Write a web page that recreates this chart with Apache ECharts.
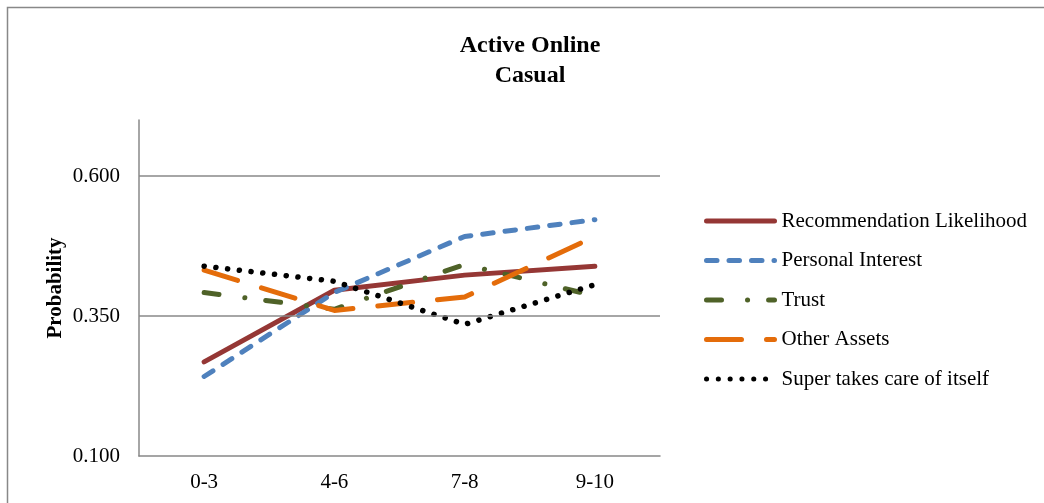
<!DOCTYPE html>
<html>
<head>
<meta charset="utf-8">
<script src="https://cdn.jsdelivr.net/npm/echarts@6/dist/echarts.min.js"></script>
<style>
html,body{margin:0;padding:0;background:#fff;}
#chart{width:1044px;height:503px;}
</style>
</head>
<body>
<div id="chart"></div>
<script>
var categories = ['0-3', '4-6', '7-8', '9-10'];
var seriesNames = ['Recommendation Likelihood', 'Personal Interest', 'Trust', 'Other Assets', 'Super takes care of itself'];
var recommendation = [0.268, 0.396, 0.423, 0.439];
var personalInterest = [0.242, 0.392, 0.492, 0.522];
var trust = [0.392, 0.362, 0.442, 0.386];
var otherAssets = [0.432, 0.360, 0.384, 0.492];
var superCare = [0.439, 0.412, 0.335, 0.406];
var yTickLabels = [0.1, 0.35, 0.6];
var gridValues = [0.35, 0.6];

var FONT = "'Liberation Serif', 'Times New Roman', serif";
var chart = echarts.init(document.getElementById('chart'), null, {renderer: 'canvas'});

function mkSeries(name, data, color, type, width) {
  return {
    name: name, type: 'line', data: data, symbol: 'none', z: 3,
    lineStyle: {color: color, width: width, type: type, cap: 'round', join: 'round'},
    itemStyle: {color: color},
    animation: false
  };
}

var option = {
  backgroundColor: '#fff',
  animation: false,
  graphic: [{
    type: 'rect', silent: true,
    shape: {x: 7.5, y: 7.5, width: 1100, height: 600},
    style: {fill: 'none', stroke: '#888', lineWidth: 1.5}
  }],
  title: {
    text: 'Active Online\nCasual',
    left: 530, top: 31, textAlign: 'center', padding: 0,
    textStyle: {fontFamily: FONT, fontSize: 24, fontWeight: 'bold', color: '#000', lineHeight: 30}
  },
  legend: {
    orient: 'vertical', left: 699, top: 205.5,
    itemWidth: 68, itemHeight: 14, itemGap: 18.5,
    data: seriesNames,
    itemStyle: {opacity: 0},
    lineStyle: {width: 5, cap: 'round'},
    textStyle: {fontFamily: FONT, fontSize: 21, color: '#000', padding: [0, 0, 0, 2]}
  },
  grid: {left: 139, right: 384, top: 120, bottom: 47, containLabel: false},
  xAxis: {
    type: 'category', data: categories, boundaryGap: true,
    axisLine: {show: true, lineStyle: {color: '#888', width: 1.5}},
    axisTick: {show: false},
    axisLabel: {margin: 16, fontFamily: FONT, fontSize: 21, color: '#000'},
    splitLine: {show: false}
  },
  yAxis: {
    type: 'value', min: 0.1, max: 0.7, interval: 0.05,
    name: 'Probability', nameLocation: 'middle', nameRotate: 90, nameGap: 73,
    nameTextStyle: {fontFamily: FONT, fontSize: 21, fontWeight: 'bold', color: '#000'},
    axisLine: {show: true, lineStyle: {color: '#888', width: 1.5}},
    axisTick: {show: false},
    splitLine: {show: false},
    axisLabel: {
      margin: 19, fontFamily: FONT, fontSize: 21, color: '#000',
      formatter: function (v) {
        for (var i = 0; i < yTickLabels.length; i++) {
          if (Math.abs(v - yTickLabels[i]) < 1e-6) return yTickLabels[i].toFixed(3);
        }
        return '';
      }
    }
  },
  series: [
    {
      name: 'grid', type: 'line', data: [], z: 1, silent: true,
      markLine: {
        silent: true, symbol: ['none', 'none'], animation: false,
        label: {show: false},
        lineStyle: {color: '#888', type: 'solid', width: 1.5},
        emphasis: {disabled: true},
        data: gridValues.map(function (v) { return {yAxis: v}; })
      }
    },
    mkSeries(seriesNames[0], recommendation, '#953735', 'solid', 5),
    mkSeries(seriesNames[1], personalInterest, '#4F81BD', [10.5, 12], 5),
    mkSeries(seriesNames[2], trust, '#4F6228', [15, 26, 0.1, 21], 5),
    mkSeries(seriesNames[3], otherAssets, '#E46C0A', [35, 25], 5),
    mkSeries(seriesNames[4], superCare, '#000000', [0.1, 11.7], 5.5)
  ]
};
chart.setOption(option);
</script>
</body>
</html>
